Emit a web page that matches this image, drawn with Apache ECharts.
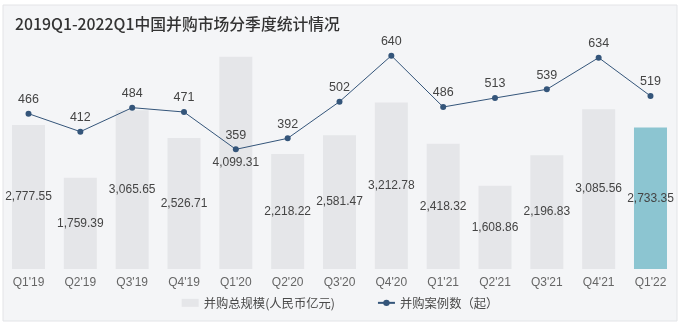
<!DOCTYPE html>
<html>
<head>
<meta charset="utf-8">
<script src="https://cdn.jsdelivr.net/npm/echarts@6/dist/echarts.min.js"></script>
<style>
  html, body { margin: 0; padding: 0; background: #ffffff; }
  #chart { width: 680px; height: 323px; }
</style>
</head>
<body>
<div id="chart"></div>
<script>
// Quarter labels along the x axis
const quarters = ["Q1'19", "Q2'19", "Q3'19", "Q4'19", "Q1'20", "Q2'20", "Q3'20",
                  "Q4'20", "Q1'21", "Q2'21", "Q3'21", "Q4'21", "Q1'22"];
// Total deal value per quarter (100 million RMB)
const dealValue = [2777.55, 1759.39, 3065.65, 2526.71, 4099.31, 2218.22, 2581.47,
                   3212.78, 2418.32, 1608.86, 2196.83, 3085.56, 2733.35];
// Number of deals per quarter
const dealCount = [466, 412, 484, 471, 359, 392, 502, 640, 486, 513, 539, 634, 519];

const valueName = '并购总规模(人民币亿元)';
const countName = '并购案例数（起）';
const chartTitle = '2019Q1-2022Q1中国并购市场分季度统计情况';

const fontFamily = "'Liberation Sans', 'Noto Sans CJK SC', sans-serif";
const barGray = '#e5e6e9';
const barHighlight = '#8cc5d1';
const lineColor = '#34557a';

const chart = echarts.init(document.getElementById('chart'));

chart.setOption({
  animation: false,
  textStyle: { fontFamily: fontFamily },
  graphic: [
    {
      type: 'rect',
      z: -10,
      silent: true,
      shape: { x: 3, y: 5, width: 674, height: 316 },
      style: { fill: '#f4f5f7', stroke: '#e3e4e7', lineWidth: 1 }
    }
  ],
  title: {
    text: chartTitle,
    left: 10,
    top: 11,
    textStyle: {
      fontFamily: "'Noto Sans CJK SC', sans-serif",
      fontSize: 15.8,
      fontWeight: 500,
      color: '#333333'
    }
  },
  legend: {
    bottom: 9,
    left: 'center',
    itemGap: 42,
    itemWidth: 17,
    itemHeight: 8,
    textStyle: { fontSize: 12.3, color: '#4a4a4a', fontFamily: "'Noto Sans CJK SC', sans-serif" },
    data: [
      { name: valueName, icon: 'rect', itemStyle: { color: barGray } },
      { name: countName }
    ]
  },
  grid: { left: 2.6, right: 3.6, top: 10, bottom: 54 },
  xAxis: {
    type: 'category',
    data: quarters,
    axisLine: { show: false },
    axisTick: { show: false },
    axisLabel: { color: '#666666', fontSize: 12, margin: 8 }
  },
  yAxis: [
    { type: 'value', min: 0, max: 5000, show: false, splitLine: { show: false } },
    { type: 'value', min: 0, max: 777, show: false, splitLine: { show: false } }
  ],
  series: [
    {
      name: valueName,
      type: 'bar',
      yAxisIndex: 0,
      barWidth: 33,
      data: dealValue.map(function (v, i) {
        return {
          value: v,
          itemStyle: { color: i === dealValue.length - 1 ? barHighlight : barGray }
        };
      }),
      itemStyle: { color: barGray },
      label: {
        show: true,
        position: 'inside',
        color: '#444444',
        fontSize: 12,
        formatter: function (p) {
          return p.value.toLocaleString('en-US', { minimumFractionDigits: 2, maximumFractionDigits: 2 });
        }
      }
    },
    {
      name: countName,
      type: 'line',
      yAxisIndex: 1,
      data: dealCount,
      symbol: 'circle',
      symbolSize: 6,
      lineStyle: { color: lineColor, width: 1 },
      itemStyle: { color: lineColor },
      label: {
        show: true,
        position: 'top',
        distance: 5,
        color: '#444444',
        fontSize: 12.5
      },
      z: 5
    }
  ]
});
</script>
</body>
</html>
